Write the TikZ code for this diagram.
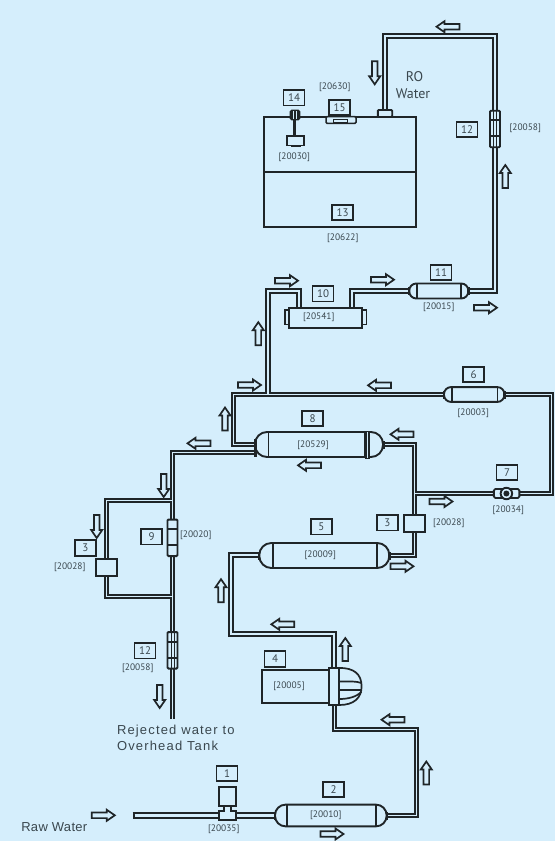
\documentclass[tikz,border=0pt]{standalone}
\usepackage{fontspec}
\setmainfont{PT Sans}
\newfontfamily\spacedfont[LetterSpace=9]{Liberation Sans}
\newfontfamily\rawfont[LetterSpace=2.5]{Liberation Sans}
\usetikzlibrary{backgrounds}
\definecolor{paper}{HTML}{D5EEFC}
\definecolor{ink}{HTML}{1F2528}
\definecolor{txt}{HTML}{3A474E}
\tikzset{
  every node/.style={inner sep=0pt,outer sep=0pt},
  numbox/.style={draw=ink,line width=1.9,minimum width=21,minimum height=15.5,font=\fontsize{11}{12}\selectfont,text=txt},
  part/.style={font=\fontsize{9.4}{10}\selectfont,text=txt},
  title/.style={font=\fontsize{13}{14}\selectfont\spacedfont,text=txt,anchor=west},
  rotext/.style={font=\fontsize{14}{15}\selectfont,text=txt},
  hull/.style={draw=ink,line width=1.9,fill=paper},
  fitting/.style={hull,rounded corners=1,minimum width=10,minimum height=36.5},
  thin line/.style={draw=ink,line width=1.7},
  flowline/.style={draw=ink,line width=1.7,miter limit=6},
  outerwide/.style={draw=ink,line width=6},
  innerwide/.style={draw=paper,line width=2},
  outernarrow/.style={draw=ink,line width=5},
  innernarrow/.style={draw=paper,line width=1},
  flow/.pic={\draw[flowline] (-11.5,-2.8) -- (3.5,-2.8) -- (3.5,-5.5) -- (11.5,0) -- (3.5,5.5) -- (3.5,2.8) -- (-11.5,2.8) -- cycle;}
}
\newcommand{\capsulebody}[8]{% name,cx,cy,w,h,left inset,right inset,radius
  \node[hull,rounded corners=#8,minimum width=#4,minimum height=#5] (#1) at (#2,#3) {};
  \draw[thin line] ([xshift=#6]#1.north west) -- ([xshift=#6]#1.south west);
  \draw[thin line] ([xshift=-#7]#1.north east) -- ([xshift=-#7]#1.south east);
  \fill[ink] ([xshift=-1.5,yshift=-4]#1.west) rectangle ([xshift=1,yshift=4]#1.west);
  \fill[ink] ([xshift=-1,yshift=-4]#1.east) rectangle ([xshift=1.5,yshift=4]#1.east);
}
\newcommand{\tubenet}[2]{%
  \draw[#1] (f11.east) -| (cTop) -| (roport.north);
  \draw[#1] (c10b) |- (f11.west);
  \draw[#1] (j4) |- (c10a) -- (c10c);
  \draw[#1] (f5w) -| (c5left) -| (collar.north);
  \draw[#2] (box3r.south) |- (f5.east);
  \draw[#2] (f6.west) -| (c8up) -- (f8u);
  \draw[#2] (f6.east) -- (cRight) |- (v7.east);
  \draw[#2] (f8.east) -| (box3r.north);
  \draw[#2] (j3) -- (v7.west);
  \draw[#2] (f2.east) -| (c2up) -| (collarS);
}
\newcommand{\rejectnet}[1]{%
  \draw[#1] (f8d) -| (rejEnd);
  \draw[#1] (j1) -| (box3l.north);
  \draw[#1] (box3l.south) |- (j2);
}
\begin{document}
\begin{tikzpicture}[x=1pt,y=-1pt]
\useasboundingbox (0,0) rectangle (555,841);
% coordinates
\coordinate (cTop) at (495,36);
\coordinate (c10a) at (299,291);
\coordinate (c10b) at (352,308);
\coordinate (c10c) at (299,308);
\coordinate (j4) at (268,394.5);
\coordinate (c8up) at (233.5,444.5);
\coordinate (f8u) at (255,444.5);
\coordinate (f8d) at (255,452.5);
\coordinate (cRight) at (551.5,394.5);
\coordinate (j3) at (414.5,493.5);
\coordinate (c5left) at (231,634);
\coordinate (f5w) at (260,555);
\coordinate (c2up) at (416.5,729.5);
\coordinate (collarS) at (334.5,705);
\coordinate (rejEnd) at (172.5,718.5);
\coordinate (j1) at (172.5,500.5);
\coordinate (j2) at (172.5,596.5);
\coordinate (inletEnd) at (132.5,815.5);
% tank
\node[hull,minimum width=152,minimum height=110] (tank) at (340,172) {};
\draw[hull] (tank.west) -- (tank.east);
\node[hull,minimum width=14.4,minimum height=7,rounded corners=1] (roport) at (385,113.5) {};
% tank fittings
\node[hull,line width=1.5,minimum width=30,minimum height=6.6,rounded corners=1] (base15) at (341,120) {};
\node[hull,line width=1.3,minimum width=14,minimum height=3.4] (slot15) at (340.3,121) {};
\draw[ink,line width=3.6] (294.5,120) -- (294.5,136);
\node[hull,minimum width=16.4,minimum height=9.6] (float14) at (295.5,140.7) {};
\fill[ink] (290.5,145) rectangle (300.5,147);
\node[hull,minimum width=9,minimum height=9,rounded corners=1.5,fill=ink] (cap14) at (295,115) {};
\draw[paper,line width=.6] (293.3,111) -- (293.3,119) (296.7,111) -- (296.7,119);
% labels in tank area
\node[numbox] (n14) at (294,97.7) {14};
\node[numbox,fill=paper] (n15) at (339.7,107.3) {15};
\node[numbox] (n13) at (342.7,212.3) {13};
\node[numbox] (n12a) at (467,129.3) {12};
\node[part] (t20630) at (334.7,87) {[20630]};
\node[part] (t20030) at (294.3,157.3) {[20030]};
\node[part] (t20622) at (342.7,238.3) {[20622]};
\node[part] (t20058a) at (525.3,128.7) {[20058]};
\node[rotext] (ro) at (414.5,76.7) {RO};
\node[rotext] (water) at (413,93.7) {Water};
% fitting 12 upper
\node[fitting] (fit12a) at (495,129) {};
\draw[thin line] (fit12a.west |- 0,120) -- (fit12a.east |- 0,120) (fit12a.west |- 0,135.7) -- (fit12a.east |- 0,135.7);
\draw[thin line,line width=.9] (493.7,111) -- (493.7,147) (496.3,111) -- (496.3,147);
% filter 11
\capsulebody{f11}{438.8}{291}{59}{15}{7.5}{7}{7}
\node[numbox] (n11) at (441,272.3) {11};
\node[part] (t20015) at (438.7,307.3) {[20015]};
% module 10
\node[hull,line width=1.5,minimum width=4.3,minimum height=14.3] (capL10) at (286.9,317.2) {};
\node[hull,line width=1.5,minimum width=4.3,minimum height=14.3] (capR10) at (364.4,317.2) {};
\node[hull,minimum width=73.3,minimum height=20] (f10) at (325.7,317.7) {};
\node[numbox] (n10) at (323,293.7) {10};
\node[part] (t20541) at (318.7,317.3) {[20541]};
% filter 6
\capsulebody{f6}{474.2}{394.5}{60.4}{14.8}{8.3}{7}{7}
\node[numbox] (n6) at (473.7,374.3) {6};
\node[part] (t20003) at (473.3,413) {[20003]};
% filter 8
\capsulebody{f8}{319}{444.5}{128}{25}{13.5}{18}{12}
\fill[ink] (365,431) rectangle (370,458.5);
\draw[paper,line width=.8] (367.5,432) -- (367.5,458);
\fill[ink] (253.5,439) rectangle (256.5,456.7);
\node[numbox] (n8) at (312.7,418.3) {8};
\node[part] (t20529) at (313,445.7) {[20529]};
% valve 7
\node[hull,rounded corners=1.5,minimum width=25.5,minimum height=9] (v7) at (506.6,493.5) {};
\node[hull,circle,minimum size=11.5] (v7disc) at (506.4,493.5) {};
\fill[ink] (v7disc.center) circle (3);
\node[numbox] (n7) at (507,472.3) {7};
\node[part] (t20034) at (508.3,510) {[20034]};
% control valve boxes
\node[hull,minimum width=21,minimum height=17] (box3r) at (414.5,523.5) {};
\node[numbox] (n3r) at (387.3,522.7) {3};
\node[part] (t20028r) at (448.7,523.3) {[20028]};
\node[hull,minimum width=21,minimum height=17] (box3l) at (106.5,567.5) {};
\node[numbox] (n3l) at (85.3,548) {3};
\node[part] (t20028l) at (69.7,567.3) {[20028]};
% filter 5
\capsulebody{f5}{324.3}{555.5}{130}{25}{14}{12.6}{12}
\node[numbox] (n5) at (321.3,526.7) {5};
\node[part] (t20009) at (320.3,555) {[20009]};
% fitting 9 and lower 12
\node[fitting] (fit9) at (172.5,537.8) {};
\draw[thin line] (fit9.west |- 0,529) -- (fit9.east |- 0,529) (fit9.west |- 0,545) -- (fit9.east |- 0,545);
\node[numbox] (n9) at (151.7,536.7) {9};
\node[part] (t20020) at (195.7,535.7) {[20020]};
\node[fitting] (fit12b) at (172.5,650.3) {};
\draw[thin line] (fit12b.west |- 0,641.7) -- (fit12b.east |- 0,641.7) (fit12b.west |- 0,658.3) -- (fit12b.east |- 0,658.3);
\draw[thin line,line width=.9] (171,633) -- (171,668) (174,633) -- (174,668);
\node[numbox] (n12b) at (145,650.7) {12};
\node[part] (t20058b) at (137.7,668.3) {[20058]};
% pump 4
\node[hull,minimum width=67,minimum height=33] (motor) at (295.5,686.5) {};
\draw[thin line,fill=paper] (339.3,667.9) .. controls (354,667.9) and (361.5,674) .. (361.6,686.3) .. controls (361.5,698) and (354,705) .. (339.3,705);
\draw[thin line] (339.3,681.5) .. controls (348,681.5) and (356,681) .. (361.5,683);
\draw[thin line] (339.3,690) .. controls (348,690) and (356,690) .. (361.5,690);
\draw[thin line] (339.3,699) .. controls (348,699) and (356,697) .. (361.5,692);
\node[hull,minimum width=10.4,minimum height=37.3] (collar) at (334,686.3) {};
\node[numbox] (n4) at (275,659) {4};
\node[part] (t20005) at (289,686) {[20005]};
% filter 2
\capsulebody{f2}{330.8}{815.5}{111.6}{21.7}{12.3}{10.7}{10.5}
\node[numbox] (n2) at (333.7,789.3) {2};
\node[part] (t20010) at (325.7,815.7) {[20010]};
% inlet valve
\node[hull,minimum width=17.5,minimum height=18.4] (sol) at (227.5,796.5) {};
\node[hull,minimum width=17,minimum height=9.5] (tee) at (227.5,815.5) {};
\node[numbox] (n1) at (227,773.3) {1};
\node[part] (t20035) at (223.7,829.7) {[20035]};
% free text
\node[title] (rej1) at (117,731.3) {Rejected water to};
\node[title] (rej2) at (117,746.3) {Overhead Tank};
\node[font=\fontsize{13}{14}\selectfont\rawfont,text=txt] (raw) at (54.3,826.7) {Raw Water};
% tubes behind everything
\begin{pgfonlayer}{background}
  \fill[paper] (0,0) rectangle (555,841);
  \tubenet{outerwide}{outernarrow}
  \tubenet{innerwide}{innernarrow}
  \rejectnet{draw=ink,line width=5}
  \rejectnet{draw=paper,line width=1}
  \draw[draw=ink,line width=7] (inletEnd) -- (f2.west);
  \draw[draw=paper,line width=3] ([xshift=2]inletEnd) -- (f2.west);
\end{pgfonlayer}
% tee neck over the inlet
\fill[paper] (224.2,809.8) rectangle (231.2,812);
\draw[thin line] (224,805.7) -- (224,810.7) -- (219,810.7);
\draw[thin line] (231,805.7) -- (231,810.7) -- (236,810.7);
% flow arrows
\pic[rotate=180] at (448,26.7) {flow};
\pic[rotate=270] at (374.7,72.8) {flow};
\pic[rotate=90] at (505.3,176.5) {flow};
\pic at (286.5,280.7) {flow};
\pic at (382.5,279.7) {flow};
\pic at (485.5,307.7) {flow};
\pic[rotate=90] at (258.3,333.7) {flow};
\pic at (249.5,385) {flow};
\pic[rotate=180] at (379.5,385.3) {flow};
\pic[rotate=90] at (225,419) {flow};
\pic[rotate=180] at (402,434.3) {flow};
\pic[rotate=180] at (309.5,465.3) {flow};
\pic at (441,501.5) {flow};
\pic[rotate=180] at (199,443.3) {flow};
\pic[rotate=270] at (163.7,485.5) {flow};
\pic[rotate=270] at (96.7,526.5) {flow};
\pic[rotate=90] at (221,590.7) {flow};
\pic[rotate=180] at (282.8,624.3) {flow};
\pic[rotate=90] at (345.3,649.5) {flow};
\pic at (402,566.3) {flow};
\pic[rotate=180] at (393,719.7) {flow};
\pic[rotate=90] at (426.3,773) {flow};
\pic at (332,834) {flow};
\pic at (103.3,815.3) {flow};
\pic[rotate=270] at (159.7,696.5) {flow};
\end{tikzpicture}
\end{document}
